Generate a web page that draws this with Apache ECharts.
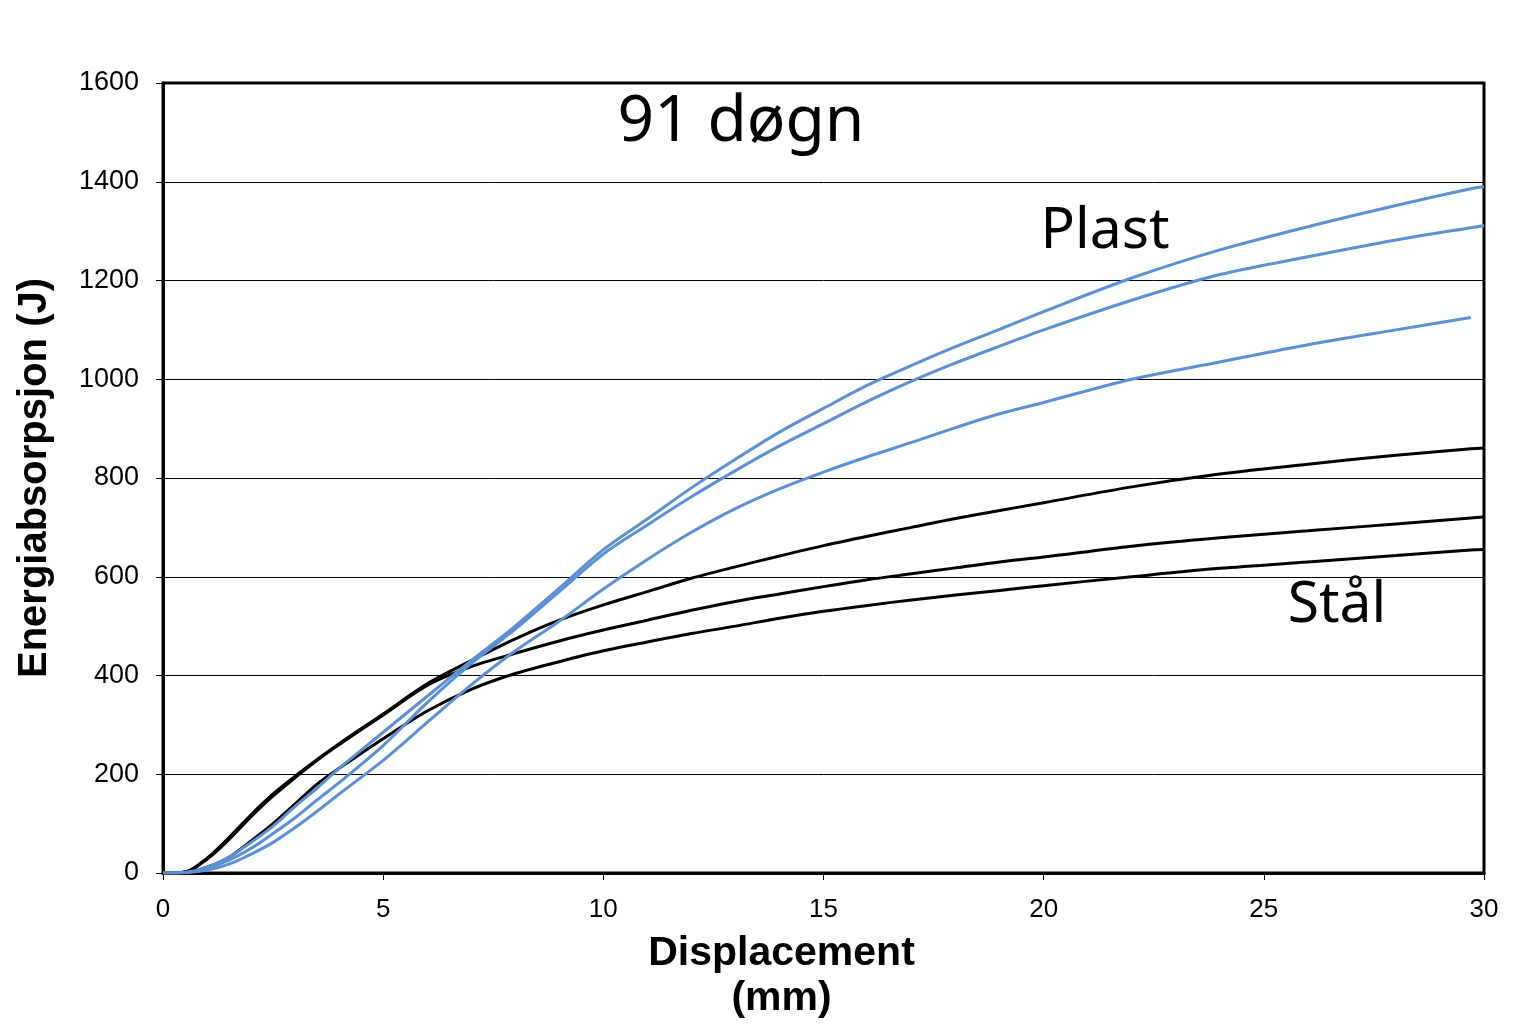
<!DOCTYPE html>
<html>
<head>
<meta charset="utf-8">
<script src="https://cdn.jsdelivr.net/npm/echarts@6/dist/echarts.min.js"></script>
<style>html,body{margin:0;padding:0;background:#fff}#c{width:1514px;height:1026px}</style>
</head>
<body>
<div id="c"></div>
<script>
// Displacement (mm)
const displacement = [0,0.5,1,1.5,2,2.5,3,3.5,4,5,6,7,8,9,10,11,12,13,14,15,16,17,18,19,20,22,24,26,28,29.7,30];
// Plast (blue)
const plast1 = [0,1,12,32,62,95,135,172,212,285,358,430,500,577,655,717,780,838,893,941,988,1028,1066,1101,1137,1205,1262,1309,1352,1386,1390];
const plast2 = [0,1,10,26,50,80,112,148,183,258,345,424,494,570,646,705,762,815,865,910,955,996,1033,1067,1100,1160,1212,1248,1282,1307,1311];
const plast3 = [0,1,6,18,38,62,92,125,160,228,305,381,450,510,575,635,690,738,778,812,843,872,902,930,953,1000,1035,1070,1100,1125,null];
// Stål (black)
const staal1 = [0,2,30,72,118,160,196,230,262,322,383,430,474,512,543,570,597,620,642,663,682,700,718,734,750,782,808,828,846,859,861];
const staal2 = [0,2,28,68,114,156,193,228,260,320,380,418,445,470,492,512,532,550,565,580,594,606,618,630,640,662,679,693,707,719,721];
const staal3 = [0,1,12,32,65,100,140,180,212,272,328,372,404,428,450,468,485,500,516,530,542,553,563,572,582,600,617,630,643,654,655];

const xTicks = {min:0, max:30, interval:5};
const yTicks = {min:0, max:1600, interval:200};
const labels = {title:'91 døgn', plast:'Plast', staal:'Stål', xName:'Displacement\n(mm)', yName:'Energiabsorpsjon (J)'};

function pairs(ys){ const out=[]; ys.forEach((v,i)=>{ if(v!==null) out.push([displacement[i], v]); }); return out; }

const BLUE = '#5B8FD6';
function mk(name, ys, color){
  return {name, type:'line', data:pairs(ys), showSymbol:false, smooth:0.3,
    lineStyle:{color, width:3}, itemStyle:{color}, z:3};
}

const chart = echarts.init(document.getElementById('c'), null, {renderer:'canvas'});
chart.setOption({
  animation:false,
  backgroundColor:'#fff',
  grid:{left:163, right:30, top:83, bottom:151, show:true, borderColor:'#000', borderWidth:3, backgroundColor:'transparent'},
  xAxis:{type:'value', min:xTicks.min, max:xTicks.max, interval:xTicks.interval,
    name:labels.xName, nameLocation:'middle', nameGap:58,
    nameTextStyle:{fontFamily:'Arial, Liberation Sans', fontWeight:'bold', fontSize:41, color:'#000', lineHeight:45, padding:[0,84,0,0]},
    axisLine:{show:true, lineStyle:{color:'#000', width:3}},
    axisTick:{show:true, inside:false, length:7, lineStyle:{color:'#000', width:1}},
    axisLabel:{fontFamily:'Arial, Liberation Sans', fontSize:26, color:'#000', margin:24, formatter:(v)=>String(v)},
    splitLine:{show:false}},
  yAxis:{type:'value', min:yTicks.min, max:yTicks.max, interval:yTicks.interval,
    name:labels.yName, nameLocation:'middle', nameGap:108,
    nameTextStyle:{fontFamily:'Arial, Liberation Sans', fontWeight:'bold', fontSize:40, color:'#000'},
    axisLine:{show:true, lineStyle:{color:'#000', width:3}},
    axisTick:{show:true, inside:false, length:7, lineStyle:{color:'#000', width:1}},
    axisLabel:{fontFamily:'Arial, Liberation Sans', fontSize:27, color:'#000', margin:24, formatter:(v)=>String(v)},
    splitLine:{show:true, lineStyle:{color:'#000', width:1}}},
  series:[
    mk('Stål 1', staal1, '#000'),
    mk('Stål 2', staal2, '#000'),
    mk('Stål 3', staal3, '#000'),
    mk('Plast 1', plast1, BLUE),
    mk('Plast 2', plast2, BLUE),
    mk('Plast 3', plast3, BLUE)
  ],
  graphic:[
    {type:'text', x:741, y:123, z:10, style:{text:labels.title, fontFamily:'Noto Sans', fontSize:64, fill:'#000', align:'center', verticalAlign:'middle'}},
    {type:'text', x:1105, y:232, z:10, style:{text:labels.plast, fontFamily:'Noto Sans', fontSize:57, fill:'#000', align:'center', verticalAlign:'middle'}},
    {type:'text', x:1337, y:606, z:10, style:{text:labels.staal, fontFamily:'Noto Sans', fontSize:57, fill:'#000', align:'center', verticalAlign:'middle'}}
  ]
});
</script>
</body>
</html>
